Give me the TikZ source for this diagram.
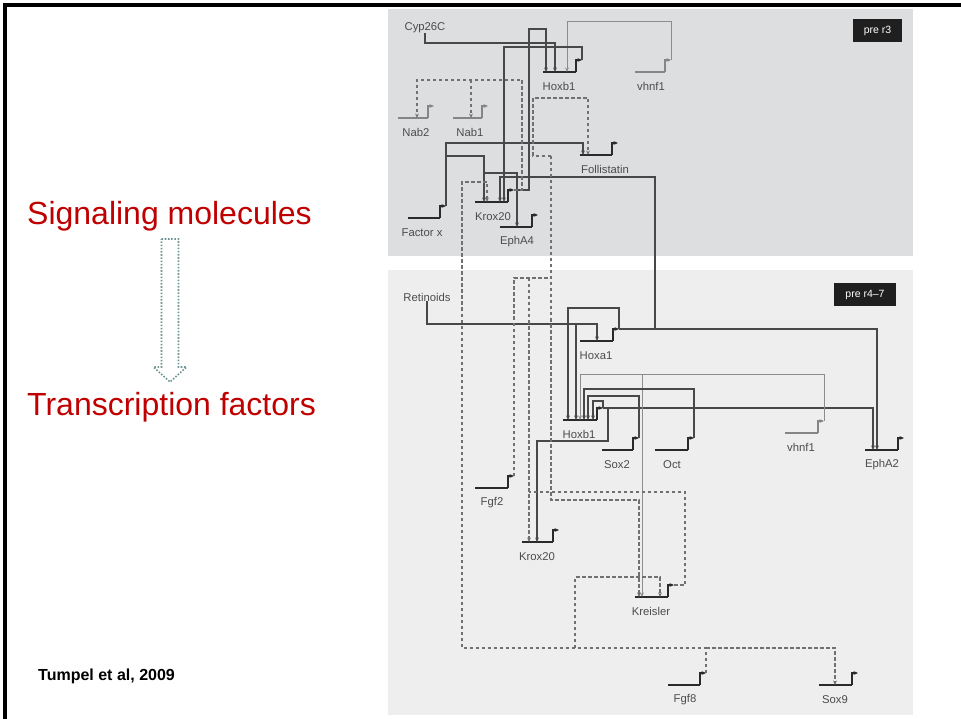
\documentclass[tikz,border=0pt]{standalone}
\usepackage{fontspec}
\setmainfont{Liberation Sans}
\usetikzlibrary{arrows.meta}

\definecolor{slidered}{HTML}{C00000}
\definecolor{panelA}{HTML}{DCDEE0}
\definecolor{panelB}{HTML}{EEEEEE}
\definecolor{wiredark}{HTML}{484848}
\definecolor{wirelight}{HTML}{8C8C8C}
\definecolor{wiredash}{HTML}{707070}
\definecolor{genedark}{HTML}{2A2A2A}
\definecolor{genelight}{HTML}{858585}
\definecolor{dotteal}{HTML}{6F9494}

\tikzset{
  wire/.style={draw=wiredark, line width=1.15pt},
  lwire/.style={draw=wirelight, line width=1pt},
  dwire/.style={draw=wiredash, line width=1.1pt, dash pattern=on 3.5pt off 2.5pt},
  genebar/.style={line width=2.2pt},
  lbl/.style={font=\fontsize{11.3}{13}\selectfont, text=black!70, inner sep=0pt},
  tag/.style={fill=black!88, text=white, font=\fontsize{10.5}{12}\selectfont, minimum height=23pt, inner sep=0pt},
  bigred/.style={anchor=base west, text=slidered, font=\fontsize{32}{38}\selectfont, inner sep=0pt},
  hollowarrow/.style={draw=dotteal, line width=1.6pt, dash pattern=on 1.6pt off 1.6pt},
}

\begin{document}
\begin{tikzpicture}[x=1pt, y=-1pt, >={Stealth[length=4.5pt,width=3.8pt]}]
\useasboundingbox (0,0) rectangle (961,719);
\fill[white] (0,0) rectangle (961,719);
\fill[panelA] (388,9) rectangle (913,256);
\fill[panelB] (388,270) rectangle (913,715);
\draw[line width=3.5pt] (5,719) -- (5,5) -- (961,5);

\node[bigred] (sig) at (27,225) {Signaling molecules};
\node[bigred] (tf) at (27,415) {Transcription factors};
\coordinate (arrtop) at (170,239);
\draw[hollowarrow] ([xshift=-8.5pt]arrtop) -- ++(17,0) -- ++(0,128) -- ++(8,0) -- ++(-16.5,15) -- ++(-16.5,-15) -- ++(8,0) -- cycle;
\node[anchor=base west, font=\bfseries\fontsize{16}{18}\selectfont, inner sep=0pt] (cite) at (38,680) {Tumpel et al, 2009};

\node[tag, minimum width=49pt] (r3) at (877.5,30.5) {pre r3};
\node[tag, minimum width=62pt] (r47) at (865,294.5) {pre r4--7};
\node[lbl] (cyp) at (425,28) {Cyp26C};
\node[lbl] (ret) at (427,297) {Retinoids};

\foreach \g/\xa/\xb/\yy/\lx/\txt/\col in {
  hoxb1a/543/576/72/559/Hoxb1/genedark, vhnf1a/635/665/72/651/vhnf1/genelight,
  nab2/398/428/118/416/Nab2/genelight, nab1/453/482/118/470/Nab1/genelight,
  foll/580/612/155/605/Follistatin/genedark, factorx/408/440/218/422/Factor x/genedark,
  krox20a/475/508/202/493/Krox20/genedark, epha4/500/532/227/517/EphA4/genedark,
  hoxa1/580/613/341/596/Hoxa1/genedark, hoxb1b/563/597/420/579/Hoxb1/genedark,
  sox2/602/633/450/617/Sox2/genedark, oct/655/688/450/672/Oct/genedark,
  vhnf1b/785/818/433/801/vhnf1/genelight, epha2/865/898/450/882/EphA2/genedark,
  fgf2/475/508/488/492/Fgf2/genedark, krox20b/522/553/542/537/Krox20/genedark,
  kreisler/635/668/597/651/Kreisler/genedark, fgf8/668/700/685/685/Fgf8/genedark,
  sox9/819/852/685/835/Sox9/genedark} {
  \coordinate (\g) at (\xa,\yy);
  \coordinate (\g-p) at (\xb+6,\yy-12);
  \draw[genebar,\col] (\g) -- (\xb,\yy);
  \draw[\col, line width=1.5pt, ->] (\xb,\yy) -- (\xb,\yy-12) -- (\g-p);
  \node[lbl] (\g-l) at (\lx,\yy+14.5) {\txt};
}

\draw[wire,->] (cyp.south) |- (555,43) -- ([xshift=12pt]hoxb1a);
\draw[wire,->] (krox20a-p) -| (529,29) -| ([xshift=3pt]hoxb1a);
\draw[lwire,->] (vhnf1a-p) |- (567,22) -- ([xshift=24pt]hoxb1a);
\draw[wire,->] (hoxb1a-p) |- (504,47) -- ([xshift=29pt]krox20a);
\draw[wire,->] (factorx-p) |- (583,143) -- ([xshift=3pt]foll);
\draw[wire,->] (446,156) -| ([xshift=9pt]krox20a);
\draw[wire,->] (484,173) -| ([xshift=17pt]epha4);

\draw[wire,->] (ret.south) |- (597,324) -- ([xshift=17pt]hoxa1);
\draw[wire,->] (576,324) -- ([xshift=13pt]hoxb1b);
\draw[wire,->] (hoxa1-p) |- (568,308) -- ([xshift=5pt]hoxb1b);
\draw[wire,->] (hoxa1-p) -| ([xshift=12pt]epha2);
\draw[wire,->] (655,329) |- (500,177) -- ([xshift=25pt]krox20a);
\draw[wire,->] (hoxb1b-p) -| ([xshift=8pt]epha2);
\draw[wire,->] (hoxb1b-p) |- (593,401) -- ([xshift=30pt]hoxb1b);
\draw[wire,->] (608,408) |- (537,441) -- ([xshift=15pt]krox20b);
\draw[lwire,->] (vhnf1b-p) |- (580,374) -- ([xshift=17pt]hoxb1b);
\draw[lwire,->] (642,374) -- ([xshift=7pt]kreisler);
\draw[wire,->] (oct-p) |- (584,389) -- ([xshift=21pt]hoxb1b);
\draw[wire,->] (sox2-p) |- (588,396) -- ([xshift=25pt]hoxb1b);

\draw[dwire,->] (krox20a-p) -| (522,80) -| ([xshift=19pt]nab2);
\draw[dwire,->] (471,80) -- ([xshift=18pt]nab1);
\draw[dwire,->] (fgf8-p) |- (462,648) |- (487,182) -- ([xshift=12pt]krox20a);
\draw[dwire,->] (706,648) -| ([xshift=16pt]sox9);
\draw[dwire,->] (575,648) |- (660,577) -- ([xshift=25pt]kreisler);
\draw[dwire] (kreisler-p) -| (685,492) -- (529,492);
\draw[dwire] (fgf2-p) |- (551,278);
\draw[dwire,->] (551,156) -- (551,500) -| ([xshift=4pt]kreisler);
\draw[dwire,->] (551,156) -| (533,98) -| ([xshift=8pt]foll);
\draw[dwire,->] (529,278) -- ([xshift=7pt]krox20b);
\end{tikzpicture}
\end{document}
